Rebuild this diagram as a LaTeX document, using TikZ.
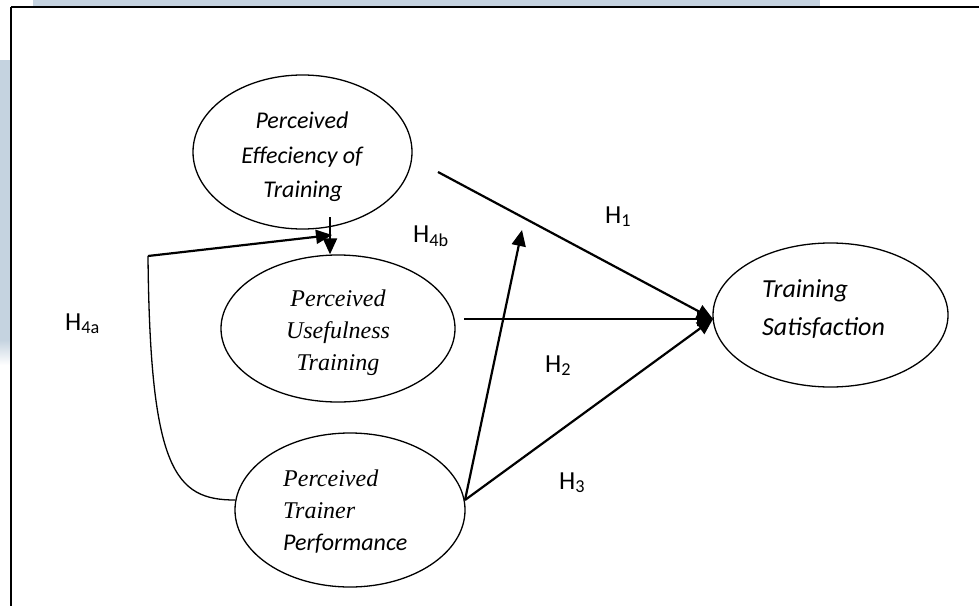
\documentclass[tikz,border=0pt]{standalone}
\usepackage{fontspec}
\setmainfont{Liberation Serif}
\setsansfont{Carlito}
\usetikzlibrary{arrows.meta,shapes.geometric}
\definecolor{bgblue}{RGB}{197,211,224}
\begin{document}
\begin{tikzpicture}[x=1pt,y=-1pt,
  construct/.style={draw,ellipse,line width=1.3pt,inner sep=0pt},
  conn/.style={line width=2.2pt,-{Triangle[length=16pt,width=14pt]}},
  thinline/.style={line width=1.3pt},
  seriftxt/.style={font=\fontsize{24}{24}\selectfont\itshape,inner sep=0pt},
  sanstxt/.style={font=\fontsize{24}{24}\selectfont\sffamily\itshape,inner sep=0pt},
  sanstxtbig/.style={font=\fontsize{26}{26}\selectfont\sffamily\itshape,inner sep=0pt},
  hlabel/.style={font=\fontsize{26}{26}\selectfont\sffamily,inner sep=0pt,anchor=base west}]
\useasboundingbox (0,0) rectangle (979,605);
% background decoration
\fill[bgblue] (33,0) rectangle (820,7);
\fill[bgblue] (0,60) rectangle (10,340);
\shade[top color=bgblue,bottom color=white] (0,340) rectangle (10,365);
\draw[line width=1.6pt] (11,7) -- (990,7);
\draw[line width=1.6pt] (11,7) -- (11,615);

% constructs
\node[construct,minimum width=219pt,minimum height=154pt] (eff) at (302.5,152) {};
\node[construct,minimum width=234pt,minimum height=147pt] (use) at (338,328.5) {};
\node[construct,minimum width=230pt,minimum height=154pt] (tr) at (350,510) {};
\node[construct,minimum width=235pt,minimum height=144pt] (sat) at (830.5,315) {};

% texts
\node[sanstxt,anchor=base] (eff1) at (302,128) {Perceived};
\node[sanstxt,anchor=base] (eff2) at (302,163) {Effeciency of};
\node[sanstxt,anchor=base] (eff3) at (303,197) {Training};

\node[seriftxt,anchor=base] (use1) at (338,306) {Perceived};
\node[seriftxt,anchor=base] (use2) at (338,338) {Usefulness};
\node[seriftxt,anchor=base] (use3) at (338,370) {Training};

\node[seriftxt,anchor=base west] (tr1) at (283,486) {Perceived};
\node[seriftxt,anchor=base west] (tr2) at (283,518) {Trainer};
\node[sanstxt,anchor=base west] (tr3) at (283,550) {Performance};

\node[sanstxtbig,anchor=base west] (sat1) at (762,297) {Training};
\node[sanstxtbig,anchor=base west] (sat2) at (762,335) {Satisfaction};

% labels
\node[hlabel] (lh1) at (605,223) {H\textsubscript{1}};
\node[hlabel] (lh2) at (545,372) {H\textsubscript{2}};
\node[hlabel] (lh3) at (559,489) {H\textsubscript{3}};
\node[hlabel] (lh4a) at (65,330) {H\textsubscript{4a}};
\node[hlabel] (lh4b) at (413,242) {H\textsubscript{4b}};

% connector end points
\coordinate (satin) at (713,319);
\coordinate (h1start) at (438,172);
\coordinate (usout) at (464,319);
\coordinate (trout) at (465,500);
\coordinate (upend) at (522,230);
\coordinate (effdown) at (330,217);
\coordinate (trleft) at (235,500);
\coordinate (h4corner) at (148,256);
\coordinate (h4tip) at (332,235);

% connectors
\draw[conn] (h1start) -- (satin);
\draw[conn] (usout) -- (satin);
\draw[conn] (trout) -- (satin);
\draw[conn] (trout) -- (upend);
\draw[conn] (effdown) -- (effdown |- use.north);
\draw[thinline] (trleft) .. controls (175,500) and (150,470) .. (h4corner);
\draw[conn] (h4corner) -- (h4tip);
\end{tikzpicture}
\end{document}
